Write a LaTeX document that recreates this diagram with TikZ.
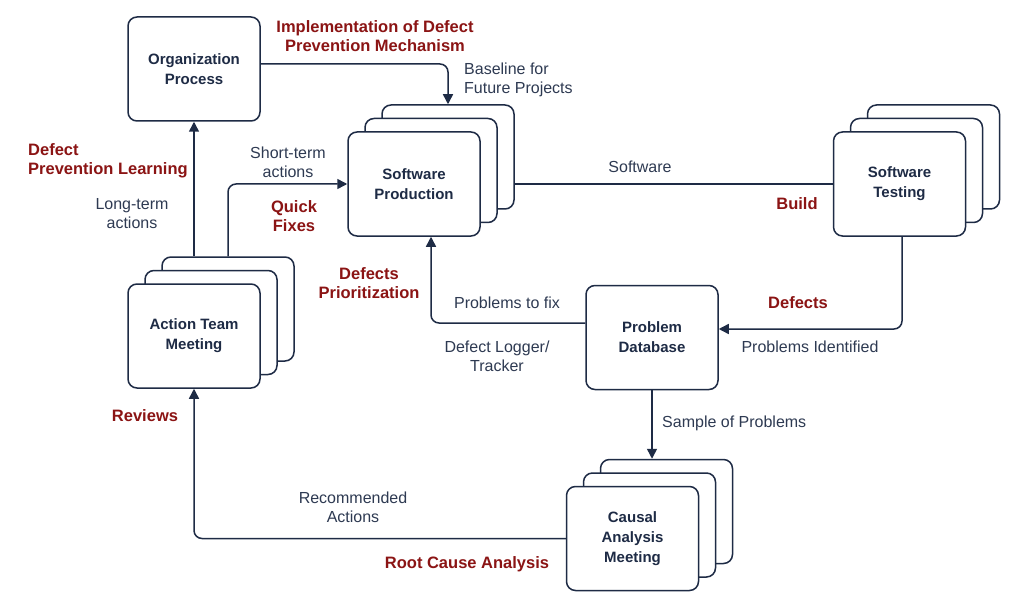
\documentclass[tikz,border=0pt]{standalone}
\usepackage{fontspec}
\setmainfont{Liberation Sans}
\usetikzlibrary{arrows.meta,positioning,calc}
\definecolor{navy}{HTML}{1E2B45}
\definecolor{labgray}{HTML}{2E3A52}
\definecolor{darkred}{HTML}{8B1414}
\tikzset{
  box/.style={draw=navy, line width=1.5pt, rounded corners=9pt, fill=white,
    minimum width=132pt, minimum height=104pt, align=center, text=navy,
    font=\fontsize{15}{20}\selectfont\bfseries, inner sep=0pt},
  conn/.style={draw=navy, line width=1.5pt, rounded corners=8pt},
  arr/.style={conn, -{Triangle[length=10pt,width=10pt]}},
  lab/.style={text=labgray, align=center, font=\fontsize{16}{19}\selectfont, inner sep=0pt},
  redlab/.style={text=darkred, align=center, font=\fontsize{16.5}{18.5}\selectfont\bfseries, inner sep=0pt}
}
\begin{document}
\begin{tikzpicture}[x=1pt,y=-1pt]
\useasboundingbox[fill=white] (0,0) rectangle (1024,612);
% Organization Process
\node[box] (org) at (194,69) {Organization\\Process};
% Software Production stack
\node[box] (spback) at (448,157) {};
\node[box] (spmid) at (431,170.5) {};
\node[box] (spfront) at (414,184) {Software\\Production};
% Software Testing stack
\node[box] (stback) at (933.5,157) {};
\node[box] (stmid) at (916.5,170.5) {};
\node[box] (stfront) at (899.5,184) {Software\\Testing};
% Action Team Meeting stack
\node[box] (atback) at (228,309) {};
\node[box] (atmid) at (211,322.5) {};
\node[box] (atfront) at (194,336) {Action Team\\Meeting};
% Problem Database
\node[box] (pd) at (652,337.5) {Problem\\Database};
% Causal Analysis Meeting stack
\node[box] (caback) at (666.5,511.5) {};
\node[box] (camid) at (649.5,525) {};
\node[box] (cafront) at (632.5,538.5) {Causal\\Analysis\\Meeting};

% connectors
\draw[arr] ([yshift=5pt]org.east) -| (spback.north);
\draw[conn] (spback.east |- spfront.east) -- (stfront.west);
\draw[arr] ([xshift=2.5pt]stfront.south) |- ([yshift=8.5pt]pd.east);
\draw[arr] ([yshift=14.5pt]pd.west) -| ([xshift=17pt]spfront.south);
\draw[arr] (pd.south) -- (pd.south |- caback.north);
\draw[arr] (cafront.west) -| (atfront.south);
\draw[arr] (atfront.north |- atback.north) -- (org.south);
\draw[arr] (atback.north) |- (spfront.west);

% labels
\node[redlab] (limpl) at (375,36) {Implementation of Defect\\Prevention Mechanism};
\node[lab, anchor=west, align=left] (lbase) at (464,80) {Baseline for\\Future Projects};
\node[lab] (lshort) at (288,162) {Short-term\\actions};
\node[redlab] (lquick) at (294,216) {Quick\\Fixes};
\node[lab] (llong) at (132,214) {Long-term\\actions};
\node[redlab, anchor=west, align=left] (llearn) at (28,161) {Defect\\Prevention Learning};
\node[lab] (lsoft) at (640,167) {Software};
\node[redlab] (lbuild) at (797,204) {Build};
\node[redlab] (ldef) at (798,303) {Defects};
\node[lab] (lident) at (810,347) {Problems Identified};
\node[redlab] (lprio) at (369,283) {Defects\\Prioritization};
\node[lab] (lfix) at (507,303) {Problems to fix};
\node[lab] (llog) at (497,356) {Defect Logger/\\Tracker};
\node[lab, anchor=west] (lsample) at (662,423) {Sample of Problems};
\node[lab] (lrec) at (353,507) {Recommended\\Actions};
\node[redlab] (lroot) at (467,564) {Root Cause Analysis};
\node[redlab] (lrev) at (145,416) {Reviews};
\end{tikzpicture}
\end{document}
